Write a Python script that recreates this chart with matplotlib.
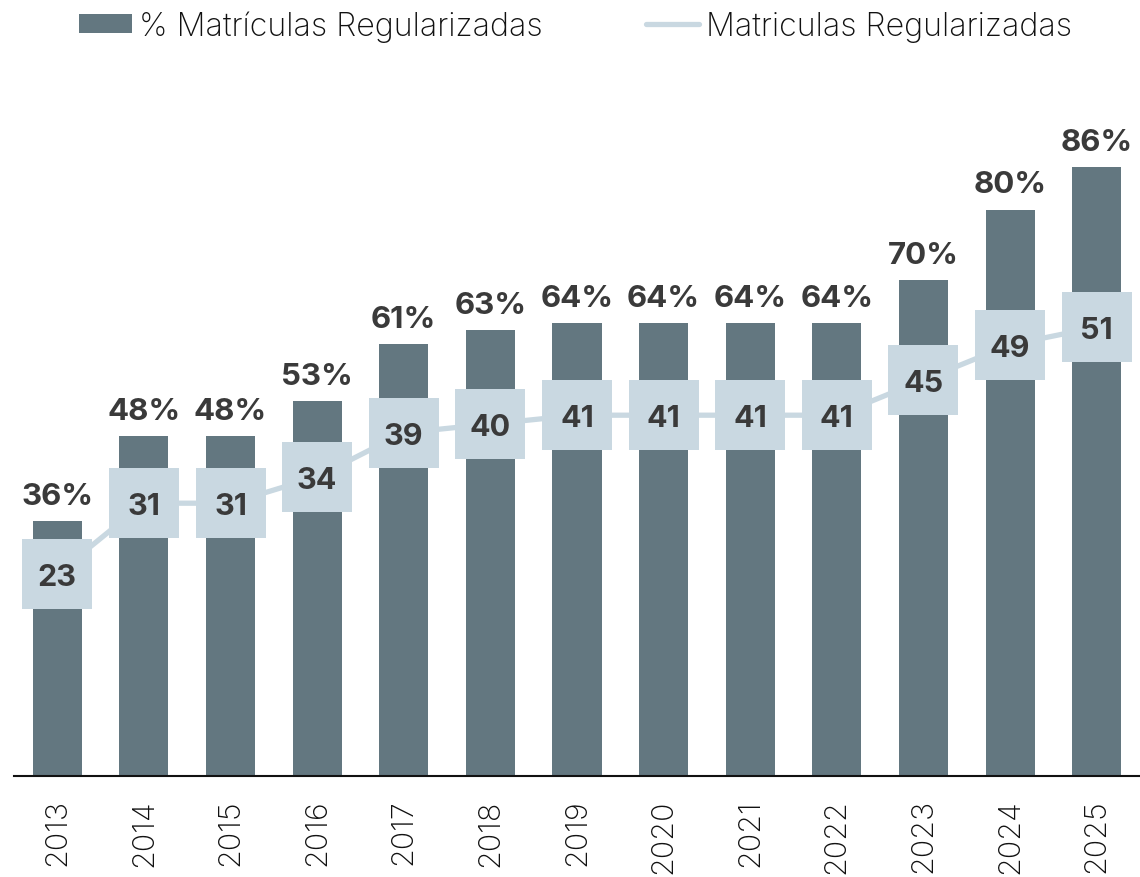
import matplotlib
matplotlib.use("Agg")
import matplotlib.pyplot as plt
from matplotlib.lines import Line2D
from matplotlib.patches import Patch

years = ["2013", "2014", "2015", "2016", "2017", "2018", "2019",
         "2020", "2021", "2022", "2023", "2024", "2025"]
pct_regularizadas = [36, 48, 48, 53, 61, 63, 64, 64, 64, 64, 70, 80, 86]
matriculas_regularizadas = [23, 31, 31, 34, 39, 40, 41, 41, 41, 41, 45, 49, 51]

bar_color = "#637780"
line_color = "#c9d8e1"
text_color = "#3a3a3a"

plt.rcParams['font.family'] = ['Inter', 'DejaVu Sans']

W, H = 1140, 878
fig = plt.figure(figsize=(W / 100, H / 100), dpi=100)
ax = fig.add_axes([14 / W, 1 - 777 / H, (W - 14) / W, (777 - 60) / H])
ax2 = ax.twinx()

x = list(range(len(years)))
ax.bar(x, pct_regularizadas, width=0.566, color=bar_color, zorder=2)
ax.set_ylim(0, 717 / 7.08)
ax.set_xlim(-0.5, len(years) - 0.5)

for xi, v in zip(x, pct_regularizadas):
    ax.annotate(f"{v}%", (xi, v), xytext=(0, 8), textcoords="offset points",
                ha="center", va="bottom", fontsize=22.5, fontweight="bold",
                color=text_color)

ax2.plot(x, matriculas_regularizadas, color=line_color, lw=3.8,
         marker="s", markersize=51, markeredgewidth=0, zorder=3)
ax2.set_ylim(0, 717 / 8.80)
for xi, v in zip(x, matriculas_regularizadas):
    ax2.text(xi, v, f"{v}", ha="center", va="center_baseline", fontsize=22,
             fontweight="bold", color=text_color, zorder=4)

for a in (ax, ax2):
    for s in ("top", "right", "left"):
        a.spines[s].set_visible(False)
    a.set_yticks([])
ax2.spines["bottom"].set_visible(False)
ax.spines["bottom"].set_linewidth(1.5)
ax.spines["bottom"].set_color("#111111")
ax.spines["bottom"].set_zorder(5)

ax.set_xticks(x)
ax.set_xticklabels(years, rotation=90, fontsize=22, fontweight="light",
                   color="#111111", va="top")
ax.tick_params(axis="x", length=0, pad=16)

handles = [Patch(facecolor=bar_color, edgecolor="none"),
           Line2D([0], [0], color=line_color, lw=3.8, solid_capstyle="round")]
labels = ["% Matrículas Regularizadas", "Matriculas Regularizadas"]
leg = fig.legend(handles, labels, loc="upper center", bbox_to_anchor=(0.505, 1.02),
                 ncol=2, frameon=False, fontsize=23.2, columnspacing=3.2,
                 handlelength=1.65, handletextpad=0.22, handleheight=0.55)
for t in leg.get_texts():
    t.set_color("#111111")
    t.set_fontweight("light")

fig.savefig("out.png", dpi=100)
